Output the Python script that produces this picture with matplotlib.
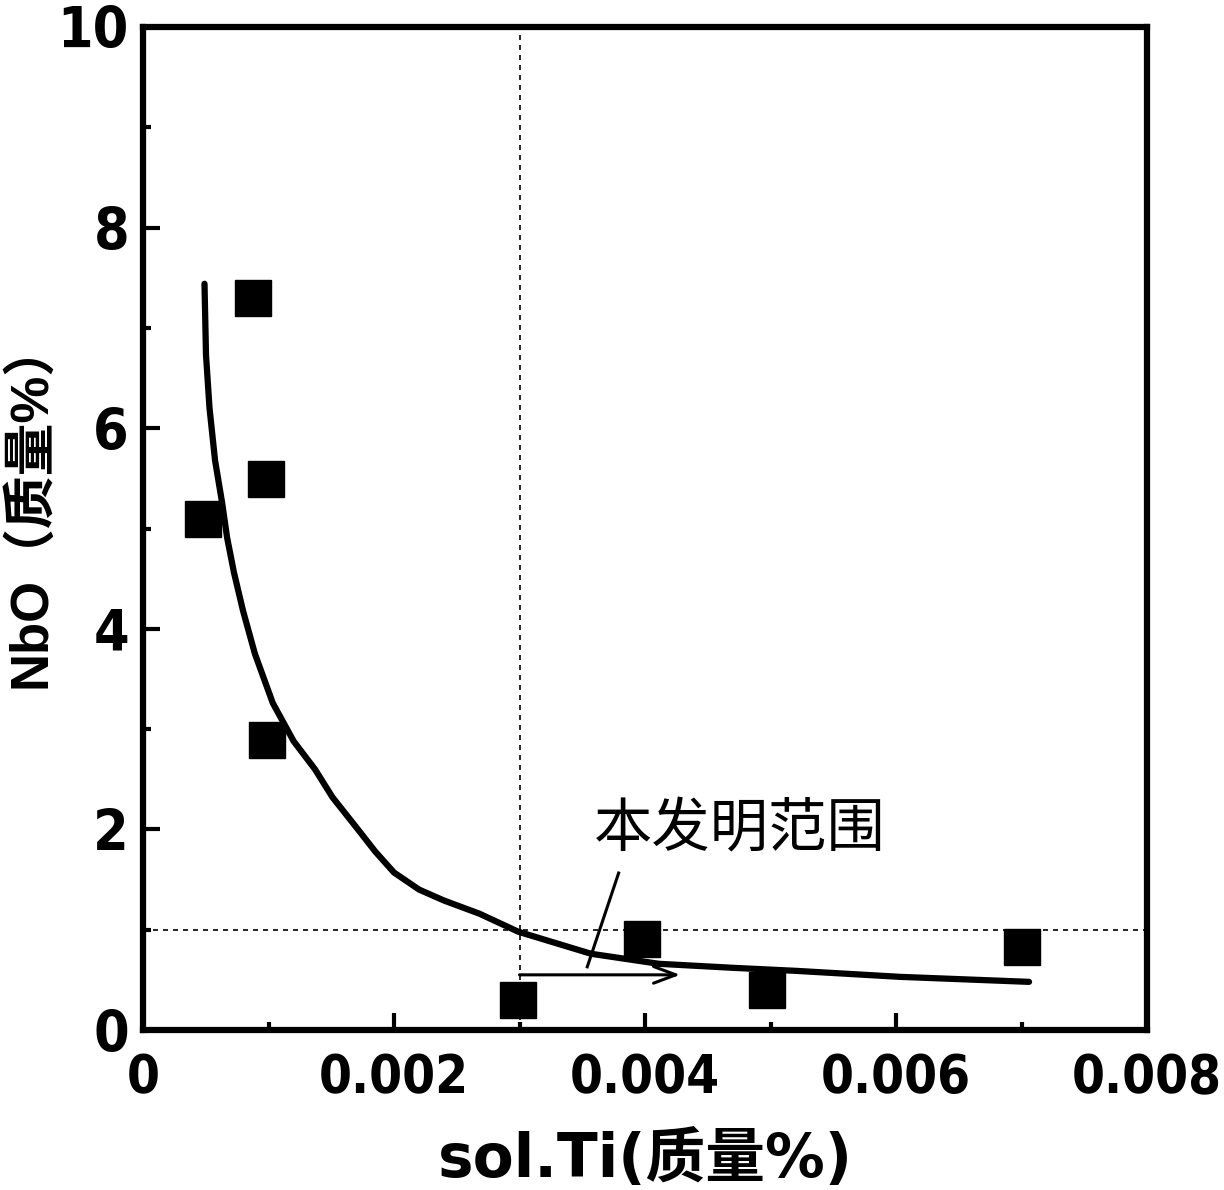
import matplotlib
matplotlib.use('Agg')
import matplotlib.pyplot as plt
from matplotlib import font_manager as fm
from matplotlib.ticker import MultipleLocator, FixedLocator

CJK = 'Noto Sans CJK SC'


def _weight_num(w):
    if isinstance(w, (int, float)):
        return w
    return {'bold': 700, 'heavy': 800, 'black': 900, 'semibold': 600, 'demibold': 600,
            'medium': 500, 'normal': 400, 'regular': 400, 'book': 400}.get(str(w).lower(), 400)


def find_condensed_bold():
    best = None
    order = ['Liberation Sans Narrow', 'DejaVu Sans', 'Noto Sans', 'Roboto', 'Open Sans', 'Liberation Sans']
    for f in fm.fontManager.ttflist:
        st = f.stretch
        if isinstance(st, str):
            cond = ('condensed' in st.lower() or 'narrow' in st.lower()) and 'semi' not in st.lower()
        else:
            cond = st < 450
        cond = cond or 'Narrow' in f.name or 'Condensed' in f.name or 'Condensed' in f.fname
        if not cond or 'Mono' in f.name or 'CJK' in f.name:
            continue
        if _weight_num(f.weight) < 600 or f.style != 'normal':
            continue
        rank = next((i for i, n in enumerate(order) if f.name.startswith(n)), len(order))
        if best is None or rank < best[0]:
            best = (rank, f.fname)
    return best[1] if best else None


COND = find_condensed_bold()

# ---- data ----
sol_ti = [0.000477, 0.000875, 0.000983, 0.00099, 0.002988, 0.00398, 0.004976, 0.0070]
nbo = [5.09, 7.30, 5.49, 2.89, 0.30, 0.91, 0.40, 0.83]

curve_x = [0.00049, 0.000502, 0.00053, 0.000574, 0.00063, 0.00067, 0.000725, 0.000797,
           0.000892, 0.001034, 0.0012, 0.00137, 0.00151, 0.0017, 0.00185, 0.0020, 0.0022,
           0.0024, 0.00268, 0.00299, 0.00357, 0.00411, 0.0047, 0.0052, 0.00603, 0.00706]
curve_y = [7.44, 6.73, 6.20, 5.68, 5.26, 4.91, 4.56, 4.18, 3.75, 3.26, 2.88, 2.60, 2.32,
           2.02, 1.78, 1.57, 1.40, 1.29, 1.16, 0.98, 0.76, 0.66, 0.62, 0.59, 0.53, 0.48]

ti_limit = 0.003
nbo_limit = 1.0
arrow_y = 0.55
arrow_end = 0.00428
label_xy = (0.004757, 1.99)
pointer_start = (0.00379, 1.565)
pointer_end = (0.00354, 0.63)

x_ticks = [0, 0.002, 0.004, 0.006, 0.008]
x_tick_labels = ['0', '0.002', '0.004', '0.006', '0.008']
y_ticks = [0, 2, 4, 6, 8, 10]
y_tick_labels = ['0', '2', '4', '6', '8', '10']

annotation = '本发明范围'
x_label = 'sol.Ti(质量%)'
y_label = 'NbO（质量%）'

fig = plt.figure(figsize=(12.24, 11.90), dpi=100)
ax = fig.add_axes([143/1224, 1 - 1030/1190, (1147-143)/1224, (1030-27)/1190])

ax.set_xlim(0, 0.008)
ax.set_ylim(0, 10)

# reference lines
ax.plot([ti_limit, ti_limit], [0, 10], color='black', lw=1.2, ls=(0, (3, 3)), zorder=1)
ax.plot([0, 0.008], [nbo_limit, nbo_limit], color='black', lw=1.2, ls=(0, (3, 3)), zorder=1)

# fitted curve
ax.plot(curve_x, curve_y, color='black', lw=4.5, solid_capstyle='round',
        solid_joinstyle='round', zorder=3)

# data points
ax.plot(sol_ti, nbo, ls='none', marker='s', ms=26, color='black', zorder=4)

# invention range arrow
ax.annotate('', xy=(arrow_end, arrow_y), xytext=(ti_limit, arrow_y),
            arrowprops=dict(arrowstyle='->,head_length=1.6,head_width=0.6', color='black', lw=2.2,
                            shrinkA=0, shrinkB=0), zorder=5)
ax.plot([pointer_start[0], pointer_end[0]], [pointer_start[1], pointer_end[1]],
        color='black', lw=2.2, zorder=5)
ax.text(label_xy[0], label_xy[1], annotation, ha='center', va='center',
        fontsize=42, family=[CJK, 'DejaVu Sans'], zorder=6)

# axes styling
for s in ax.spines.values():
    s.set_linewidth(4.5)
ax.xaxis.set_major_locator(FixedLocator(x_ticks))
ax.xaxis.set_minor_locator(MultipleLocator(0.001))
ax.yaxis.set_major_locator(FixedLocator(y_ticks))
ax.yaxis.set_minor_locator(MultipleLocator(1))
ax.set_xticklabels(x_tick_labels)
ax.set_yticklabels(y_tick_labels)
ax.tick_params(which='major', direction='in', length=12, width=3)
ax.tick_params(which='minor', direction='in', length=6, width=3)
ax.tick_params(axis='x', which='major', pad=16)
ax.tick_params(axis='y', which='major', pad=10)

if COND:
    xfp = fm.FontProperties(fname=COND, size=38)
    yfp = fm.FontProperties(fname=COND, size=41)
else:
    xfp = fm.FontProperties(family='DejaVu Sans', weight='bold', size=33)
    yfp = fm.FontProperties(family='DejaVu Sans', weight='bold', size=37)
for lab in ax.get_xticklabels():
    lab.set_fontproperties(xfp)
for lab in ax.get_yticklabels():
    lab.set_fontproperties(yfp)

ax.set_xlabel(x_label, fontsize=43, fontweight='bold', family=['DejaVu Sans', CJK], va='center')
ax.xaxis.set_label_coords(0.5, -0.13)
ax.set_ylabel(y_label, fontsize=38, fontweight='bold', family=['Liberation Sans', CJK, 'DejaVu Sans'],
              va='center')
ax.yaxis.set_label_coords(-0.112, 0.525)

fig.savefig('out.png', dpi=100)
